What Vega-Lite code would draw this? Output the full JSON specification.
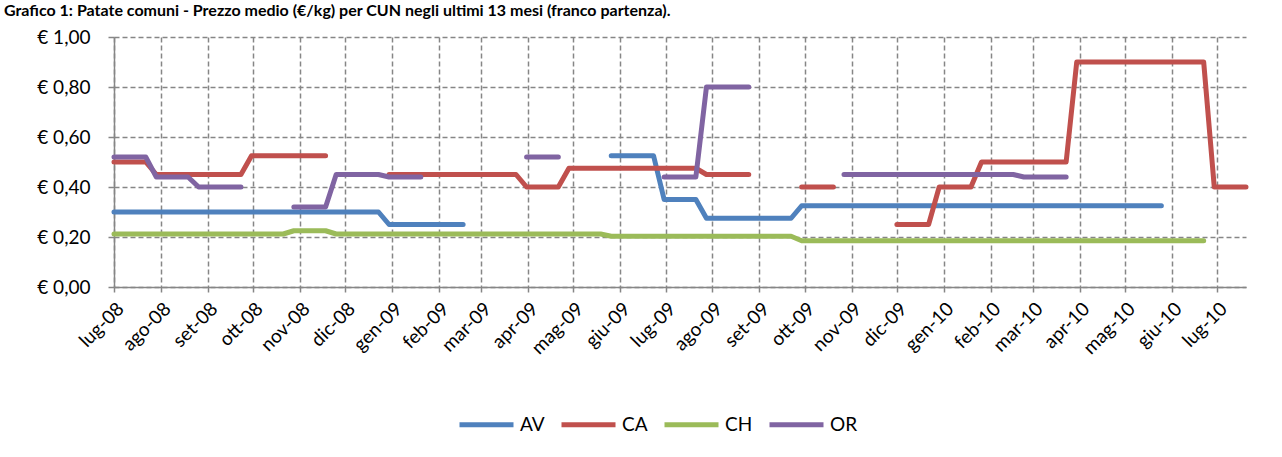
{
  "$schema": "https://vega.github.io/schema/vega-lite/v6.json",
  "width": 1132,
  "height": 250,
  "autosize": {"type": "none"},
  "padding": {"left": 114, "top": 37, "right": 36, "bottom": 170},
  "background": "white",
  "title": {
    "text": "Grafico 1: Patate comuni - Prezzo medio (€/kg) per CUN negli ultimi 13 mesi (franco partenza).",
    "anchor": "start",
    "frame": "group",
    "dx": -110,
    "dy": 26,
    "offset": 22,
    "baseline": "alphabetic",
    "font": "Lato",
    "fontSize": 16,
    "fontWeight": "bold",
    "color": "#000000"
  },
  "config": {
    "view": {"stroke": null},
    "font": "Lato",
    "axis": {
      "labelFont": "Lato",
      "labelFontSize": 19,
      "labelColor": "#000000",
      "domainColor": "#868686",
      "domainWidth": 1.5,
      "tickColor": "#868686",
      "tickWidth": 1.5,
      "gridColor": "#868686",
      "gridDash": [5, 3],
      "gridWidth": 1.5,
      "gridOpacity": 1,
      "title": null
    }
  },
  "data": {
    "values": [
      {"d": "2008-07-01", "AV": 0.30, "CA": 0.50, "CH": 0.212, "OR": 0.52},
      {"d": "2008-07-08", "AV": 0.30, "CA": 0.50, "CH": 0.212, "OR": 0.52},
      {"d": "2008-07-15", "AV": 0.30, "CA": 0.50, "CH": 0.212, "OR": 0.52},
      {"d": "2008-07-22", "AV": 0.30, "CA": 0.50, "CH": 0.212, "OR": 0.52},
      {"d": "2008-07-29", "AV": 0.30, "CA": 0.45, "CH": 0.212, "OR": 0.44},
      {"d": "2008-08-05", "AV": 0.30, "CA": 0.45, "CH": 0.212, "OR": 0.44},
      {"d": "2008-08-12", "AV": 0.30, "CA": 0.45, "CH": 0.212, "OR": 0.44},
      {"d": "2008-08-19", "AV": 0.30, "CA": 0.45, "CH": 0.212, "OR": 0.44},
      {"d": "2008-08-26", "AV": 0.30, "CA": 0.45, "CH": 0.212, "OR": 0.40},
      {"d": "2008-09-02", "AV": 0.30, "CA": 0.45, "CH": 0.212, "OR": 0.40},
      {"d": "2008-09-09", "AV": 0.30, "CA": 0.45, "CH": 0.212, "OR": 0.40},
      {"d": "2008-09-16", "AV": 0.30, "CA": 0.45, "CH": 0.212, "OR": 0.40},
      {"d": "2008-09-23", "AV": 0.30, "CA": 0.45, "CH": 0.212, "OR": 0.40},
      {"d": "2008-09-30", "AV": 0.30, "CA": 0.525, "CH": 0.212, "OR": null},
      {"d": "2008-10-07", "AV": 0.30, "CA": 0.525, "CH": 0.212, "OR": null},
      {"d": "2008-10-14", "AV": 0.30, "CA": 0.525, "CH": 0.212, "OR": null},
      {"d": "2008-10-21", "AV": 0.30, "CA": 0.525, "CH": 0.212, "OR": null},
      {"d": "2008-10-28", "AV": 0.30, "CA": 0.525, "CH": 0.225, "OR": 0.32},
      {"d": "2008-11-04", "AV": 0.30, "CA": 0.525, "CH": 0.225, "OR": 0.32},
      {"d": "2008-11-11", "AV": 0.30, "CA": 0.525, "CH": 0.225, "OR": 0.32},
      {"d": "2008-11-18", "AV": 0.30, "CA": 0.525, "CH": 0.225, "OR": 0.32},
      {"d": "2008-11-25", "AV": 0.30, "CA": null, "CH": 0.212, "OR": 0.45},
      {"d": "2008-12-02", "AV": 0.30, "CA": null, "CH": 0.212, "OR": 0.45},
      {"d": "2008-12-09", "AV": 0.30, "CA": null, "CH": 0.212, "OR": 0.45},
      {"d": "2008-12-16", "AV": 0.30, "CA": null, "CH": 0.212, "OR": 0.45},
      {"d": "2008-12-23", "AV": 0.30, "CA": null, "CH": 0.212, "OR": 0.45},
      {"d": "2008-12-30", "AV": 0.25, "CA": 0.45, "CH": 0.212, "OR": 0.44},
      {"d": "2009-01-06", "AV": 0.25, "CA": 0.45, "CH": 0.212, "OR": 0.44},
      {"d": "2009-01-13", "AV": 0.25, "CA": 0.45, "CH": 0.212, "OR": 0.44},
      {"d": "2009-01-20", "AV": 0.25, "CA": 0.45, "CH": 0.212, "OR": 0.44},
      {"d": "2009-01-27", "AV": 0.25, "CA": 0.45, "CH": 0.212, "OR": null},
      {"d": "2009-02-03", "AV": 0.25, "CA": 0.45, "CH": 0.212, "OR": null},
      {"d": "2009-02-10", "AV": 0.25, "CA": 0.45, "CH": 0.212, "OR": null},
      {"d": "2009-02-17", "AV": 0.25, "CA": 0.45, "CH": 0.212, "OR": null},
      {"d": "2009-02-24", "AV": null, "CA": 0.45, "CH": 0.212, "OR": null},
      {"d": "2009-03-03", "AV": null, "CA": 0.45, "CH": 0.212, "OR": null},
      {"d": "2009-03-10", "AV": null, "CA": 0.45, "CH": 0.212, "OR": null},
      {"d": "2009-03-17", "AV": null, "CA": 0.45, "CH": 0.212, "OR": null},
      {"d": "2009-03-24", "AV": null, "CA": 0.45, "CH": 0.212, "OR": null},
      {"d": "2009-03-31", "AV": null, "CA": 0.40, "CH": 0.212, "OR": 0.52},
      {"d": "2009-04-07", "AV": null, "CA": 0.40, "CH": 0.212, "OR": 0.52},
      {"d": "2009-04-14", "AV": null, "CA": 0.40, "CH": 0.212, "OR": 0.52},
      {"d": "2009-04-21", "AV": null, "CA": 0.40, "CH": 0.212, "OR": 0.52},
      {"d": "2009-04-28", "AV": null, "CA": 0.475, "CH": 0.212, "OR": null},
      {"d": "2009-05-05", "AV": null, "CA": 0.475, "CH": 0.212, "OR": null},
      {"d": "2009-05-12", "AV": null, "CA": 0.475, "CH": 0.212, "OR": null},
      {"d": "2009-05-19", "AV": null, "CA": 0.475, "CH": 0.212, "OR": null},
      {"d": "2009-05-26", "AV": 0.525, "CA": 0.475, "CH": 0.203, "OR": null},
      {"d": "2009-06-02", "AV": 0.525, "CA": 0.475, "CH": 0.203, "OR": null},
      {"d": "2009-06-09", "AV": 0.525, "CA": 0.475, "CH": 0.203, "OR": null},
      {"d": "2009-06-16", "AV": 0.525, "CA": 0.475, "CH": 0.203, "OR": null},
      {"d": "2009-06-23", "AV": 0.525, "CA": 0.475, "CH": 0.203, "OR": null},
      {"d": "2009-06-30", "AV": 0.35, "CA": 0.475, "CH": 0.203, "OR": 0.44},
      {"d": "2009-07-07", "AV": 0.35, "CA": 0.475, "CH": 0.203, "OR": 0.44},
      {"d": "2009-07-14", "AV": 0.35, "CA": 0.475, "CH": 0.203, "OR": 0.44},
      {"d": "2009-07-21", "AV": 0.35, "CA": 0.475, "CH": 0.203, "OR": 0.44},
      {"d": "2009-07-28", "AV": 0.275, "CA": 0.45, "CH": 0.203, "OR": 0.80},
      {"d": "2009-08-04", "AV": 0.275, "CA": 0.45, "CH": 0.203, "OR": 0.80},
      {"d": "2009-08-11", "AV": 0.275, "CA": 0.45, "CH": 0.203, "OR": 0.80},
      {"d": "2009-08-18", "AV": 0.275, "CA": 0.45, "CH": 0.203, "OR": 0.80},
      {"d": "2009-08-25", "AV": 0.275, "CA": 0.45, "CH": 0.203, "OR": 0.80},
      {"d": "2009-09-01", "AV": 0.275, "CA": null, "CH": 0.203, "OR": null},
      {"d": "2009-09-08", "AV": 0.275, "CA": null, "CH": 0.203, "OR": null},
      {"d": "2009-09-15", "AV": 0.275, "CA": null, "CH": 0.203, "OR": null},
      {"d": "2009-09-22", "AV": 0.275, "CA": null, "CH": 0.203, "OR": null},
      {"d": "2009-09-29", "AV": 0.325, "CA": 0.40, "CH": 0.185, "OR": null},
      {"d": "2009-10-06", "AV": 0.325, "CA": 0.40, "CH": 0.185, "OR": null},
      {"d": "2009-10-13", "AV": 0.325, "CA": 0.40, "CH": 0.185, "OR": null},
      {"d": "2009-10-20", "AV": 0.325, "CA": 0.40, "CH": 0.185, "OR": null},
      {"d": "2009-10-27", "AV": 0.325, "CA": null, "CH": 0.185, "OR": 0.45},
      {"d": "2009-11-03", "AV": 0.325, "CA": null, "CH": 0.185, "OR": 0.45},
      {"d": "2009-11-10", "AV": 0.325, "CA": null, "CH": 0.185, "OR": 0.45},
      {"d": "2009-11-17", "AV": 0.325, "CA": null, "CH": 0.185, "OR": 0.45},
      {"d": "2009-11-24", "AV": 0.325, "CA": null, "CH": 0.185, "OR": 0.45},
      {"d": "2009-12-01", "AV": 0.325, "CA": 0.25, "CH": 0.185, "OR": 0.45},
      {"d": "2009-12-08", "AV": 0.325, "CA": 0.25, "CH": 0.185, "OR": 0.45},
      {"d": "2009-12-15", "AV": 0.325, "CA": 0.25, "CH": 0.185, "OR": 0.45},
      {"d": "2009-12-22", "AV": 0.325, "CA": 0.25, "CH": 0.185, "OR": 0.45},
      {"d": "2009-12-29", "AV": 0.325, "CA": 0.40, "CH": 0.185, "OR": 0.45},
      {"d": "2010-01-05", "AV": 0.325, "CA": 0.40, "CH": 0.185, "OR": 0.45},
      {"d": "2010-01-12", "AV": 0.325, "CA": 0.40, "CH": 0.185, "OR": 0.45},
      {"d": "2010-01-19", "AV": 0.325, "CA": 0.40, "CH": 0.185, "OR": 0.45},
      {"d": "2010-01-26", "AV": 0.325, "CA": 0.50, "CH": 0.185, "OR": 0.45},
      {"d": "2010-02-02", "AV": 0.325, "CA": 0.50, "CH": 0.185, "OR": 0.45},
      {"d": "2010-02-09", "AV": 0.325, "CA": 0.50, "CH": 0.185, "OR": 0.45},
      {"d": "2010-02-16", "AV": 0.325, "CA": 0.50, "CH": 0.185, "OR": 0.45},
      {"d": "2010-02-23", "AV": 0.325, "CA": 0.50, "CH": 0.185, "OR": 0.44},
      {"d": "2010-03-02", "AV": 0.325, "CA": 0.50, "CH": 0.185, "OR": 0.44},
      {"d": "2010-03-09", "AV": 0.325, "CA": 0.50, "CH": 0.185, "OR": 0.44},
      {"d": "2010-03-16", "AV": 0.325, "CA": 0.50, "CH": 0.185, "OR": 0.44},
      {"d": "2010-03-23", "AV": 0.325, "CA": 0.50, "CH": 0.185, "OR": 0.44},
      {"d": "2010-03-30", "AV": 0.325, "CA": 0.90, "CH": 0.185, "OR": null},
      {"d": "2010-04-06", "AV": 0.325, "CA": 0.90, "CH": 0.185, "OR": null},
      {"d": "2010-04-13", "AV": 0.325, "CA": 0.90, "CH": 0.185, "OR": null},
      {"d": "2010-04-20", "AV": 0.325, "CA": 0.90, "CH": 0.185, "OR": null},
      {"d": "2010-04-27", "AV": 0.325, "CA": 0.90, "CH": 0.185, "OR": null},
      {"d": "2010-05-04", "AV": 0.325, "CA": 0.90, "CH": 0.185, "OR": null},
      {"d": "2010-05-11", "AV": 0.325, "CA": 0.90, "CH": 0.185, "OR": null},
      {"d": "2010-05-18", "AV": 0.325, "CA": 0.90, "CH": 0.185, "OR": null},
      {"d": "2010-05-25", "AV": 0.325, "CA": 0.90, "CH": 0.185, "OR": null},
      {"d": "2010-06-01", "AV": null, "CA": 0.90, "CH": 0.185, "OR": null},
      {"d": "2010-06-08", "AV": null, "CA": 0.90, "CH": 0.185, "OR": null},
      {"d": "2010-06-15", "AV": null, "CA": 0.90, "CH": 0.185, "OR": null},
      {"d": "2010-06-22", "AV": null, "CA": 0.90, "CH": 0.185, "OR": null},
      {"d": "2010-06-29", "AV": null, "CA": 0.40, "CH": null, "OR": null},
      {"d": "2010-07-06", "AV": null, "CA": 0.40, "CH": null, "OR": null},
      {"d": "2010-07-13", "AV": null, "CA": 0.40, "CH": null, "OR": null},
      {"d": "2010-07-20", "AV": null, "CA": 0.40, "CH": null, "OR": null}
    ]
  },
  "transform": [{"fold": ["AV", "CA", "CH", "OR"], "as": ["serie", "valore"]}],
  "mark": {
    "type": "line",
    "strokeWidth": 5,
    "strokeCap": "round",
    "strokeJoin": "round",
    "invalid": "break-paths-show-domains"
  },
  "encoding": {
    "x": {
      "field": "d",
      "type": "temporal",
      "scale": {
        "type": "utc",
        "domain": [
          {"year": 2008, "month": 7, "date": 1, "utc": true},
          {"year": 2010, "month": 7, "date": 20, "utc": true}
        ],
        "nice": false
      },
      "axis": {
        "tickCount": {"interval": "month", "step": 1},
        "labelExpr": "['gen','feb','mar','apr','mag','giu','lug','ago','set','ott','nov','dic'][utcmonth(datum.value)] + '-' + utcFormat(datum.value, '%y')",
        "labelAngle": -45,
        "labelAlign": "right",
        "labelBaseline": "top",
        "labelPadding": 7,
        "labelOverlap": false,
        "labelFlush": false,
        "labelBound": false,
        "tickSize": 5,
        "grid": true
      }
    },
    "y": {
      "field": "valore",
      "type": "quantitative",
      "scale": {"domain": [0, 1], "nice": false, "zero": true},
      "axis": {
        "values": [0, 0.2, 0.4, 0.6, 0.8, 1.0],
        "labelExpr": "'€ ' + replace(format(datum.value, '.2f'), '.', ',')",
        "tickSize": 6,
        "labelPadding": 18,
        "grid": true
      }
    },
    "color": {
      "field": "serie",
      "type": "nominal",
      "scale": {
        "domain": ["AV", "CA", "CH", "OR"],
        "range": ["#4F81BD", "#C0504D", "#9BBB59", "#8064A2"]
      },
      "legend": {
        "title": null,
        "orient": "none",
        "legendX": 343,
        "legendY": 358,
        "direction": "horizontal",
        "symbolType": "stroke",
        "symbolSize": 2916,
        "symbolStrokeWidth": 5,
        "labelFont": "Lato",
        "labelFontSize": 19,
        "labelColor": "#000000",
        "labelOffset": 4,
        "columnPadding": 6,
        "padding": 0
      }
    }
  }
}
